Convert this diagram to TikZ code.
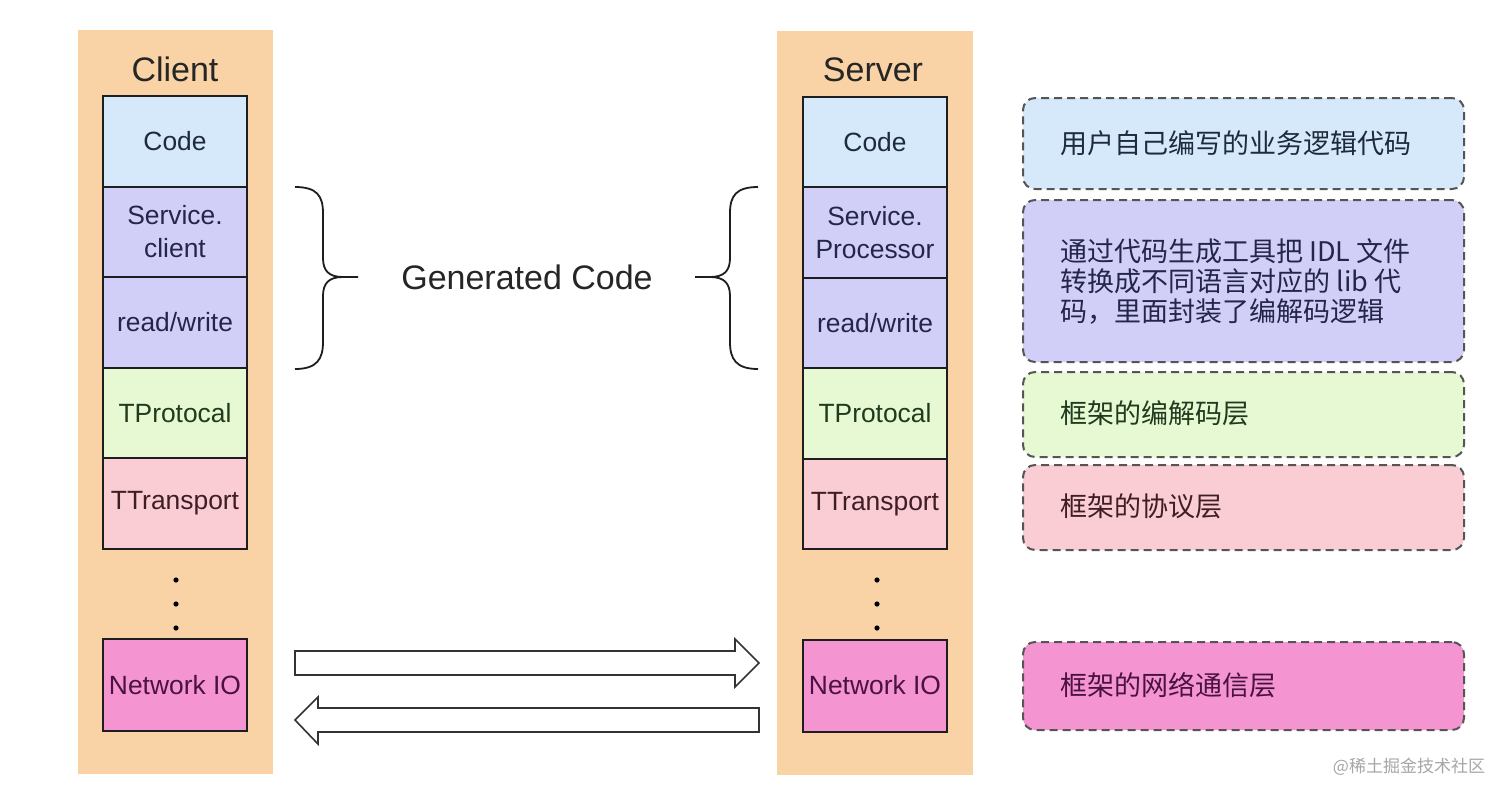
\documentclass[tikz,border=0pt]{standalone}
\usepackage{fontspec}
\setmainfont{Liberation Sans}
\newfontfamily\cjk{Noto Sans CJK SC}
\definecolor{panelc}{HTML}{F9D3A5}
\definecolor{codec}{HTML}{D5E9FA}
\definecolor{svcc}{HTML}{D1CFF8}
\definecolor{protc}{HTML}{E6F9D2}
\definecolor{tranc}{HTML}{F9CDD3}
\definecolor{netc}{HTML}{F494D1}
\definecolor{codet}{HTML}{1F2B3C}
\definecolor{svct}{HTML}{25254A}
\definecolor{prott}{HTML}{1F3A1F}
\definecolor{trant}{HTML}{3E1E24}
\definecolor{nett}{HTML}{4A1242}
\definecolor{linec}{HTML}{1E1E1E}
\definecolor{dashc}{HTML}{555555}
\begin{document}
\begin{tikzpicture}[x=0.5pt,y=-0.5pt,
  panel/.style={fill=panelc, draw=none, inner sep=0pt},
  title/.style={font=\fontsize{17}{20}\selectfont, text=black!85, anchor=base, inner sep=0pt},
  layer/.style={draw=linec, line width=1pt, minimum width=72pt, inner sep=0pt,
    font=\fontsize{13.2}{16.5}\selectfont, align=center},
  dotmark/.style={circle, fill=black, inner sep=0pt, minimum size=2.6pt},
  note/.style={draw=dashc, line width=1pt, dash pattern=on 4pt off 2.5pt,
    rounded corners=6pt, minimum width=220.5pt, inner sep=0pt},
  notetext/.style={anchor=west, inner sep=0pt, align=left,
    font=\cjk\fontsize{13.5}{15}\selectfont},
  brace/.style={draw=linec, line width=0.9pt},
  blockarrow/.style={draw=black!80, line width=0.8pt, fill=white, line join=miter}
]
\path[use as bounding box, fill=white] (0,0) rectangle (1512,799);

% panels
\node[panel, minimum width=97.5pt, minimum height=372pt] (cpanel) at (175.5,402) {};
\node[panel, minimum width=98pt, minimum height=372pt] (spanel) at (875,403) {};
\node[title] (ctitle) at (175,81) {Client};
\node[title] (stitle) at (873,81) {Server};

% client layers
\node[layer, fill=codec, text=codet, minimum height=45.25pt] (ccode) at (175,141.25) {Code};
\node[layer, fill=svcc, text=svct, minimum height=45.25pt] (csvc) at (175,231.75) {Service.\\client};
\node[layer, fill=svcc, text=svct, minimum height=45.25pt] (crw) at (175,322.25) {read/write};
\node[layer, fill=protc, text=prott, minimum height=45.25pt] (cprot) at (175,412.75) {TProtocal};
\node[layer, fill=tranc, text=trant, minimum height=45.25pt] (ctran) at (175,503.25) {TTransport};
\node[dotmark] (cd1) at (176,580) {};
\node[dotmark] (cd2) at (176,604) {};
\node[dotmark] (cd3) at (176,628) {};
\node[layer, fill=netc, text=nett, minimum height=46pt] (cnet) at (175,685) {Network IO};

% server layers
\node[layer, fill=codec, text=codet, minimum height=45.25pt] (scode) at (875,142) {Code};
\node[layer, fill=svcc, text=svct, minimum height=45.25pt] (ssvc) at (875,232.5) {Service.\\Processor};
\node[layer, fill=svcc, text=svct, minimum height=45.25pt] (srw) at (875,323) {read/write};
\node[layer, fill=protc, text=prott, minimum height=45.25pt] (sprot) at (875,413.5) {TProtocal};
\node[layer, fill=tranc, text=trant, minimum height=45.25pt] (stran) at (875,504) {TTransport};
\node[dotmark] (sd1) at (877,580) {};
\node[dotmark] (sd2) at (877,604) {};
\node[dotmark] (sd3) at (877,628) {};
\node[layer, fill=netc, text=nett, minimum height=46pt] (snet) at (875,685.5) {Network IO};

% braces
\path[brace] (295,187) .. controls (317,187) and (323,196) .. (323,213) -- (323,258)
  .. controls (323,271) and (329,277) .. (343,277) -- (358,277)
  (343,277) .. controls (329,277) and (323,283) .. (323,296) -- (323,342)
  .. controls (323,359) and (317,369) .. (295,369);
\path[brace] (758,187) .. controls (736,187) and (730,196) .. (730,213) -- (730,258)
  .. controls (730,271) and (724,277) .. (710,277) -- (695,277)
  (710,277) .. controls (724,277) and (730,283) .. (730,296) -- (730,342)
  .. controls (730,359) and (736,369) .. (758,369);
\node[font=\fontsize{17}{20}\selectfont, text=black!85] (gen) at (527,277) {Generated Code};

% block arrows
\path[blockarrow] (295,651) -- (735,651) -- (735,639) -- (759,663) -- (735,687) -- (735,675) -- (295,675) -- cycle;
\path[blockarrow] (759,708) -- (318,708) -- (318,697) -- (295,720) -- (318,744) -- (318,732) -- (759,732) -- cycle;

% notes
\node[note, fill=codec, minimum height=45.5pt] (n1) at (1243.5,143.5) {};
\node[notetext, text=codet] (t1) at (1060,143.5) {用户自己编写的业务逻辑代码};
\node[note, fill=svcc, minimum height=81pt] (n2) at (1243.5,281) {};
\node[notetext, text=svct] (t2) at (1060,282) {通过代码生成工具把 IDL 文件\\转换成不同语言对应的 lib 代\\码，里面封装了编解码逻辑};
\node[note, fill=protc, minimum height=42.5pt] (n3) at (1243.5,414.5) {};
\node[notetext, text=prott] (t3) at (1060,413) {框架的编解码层};
\node[note, fill=tranc, minimum height=42.5pt] (n4) at (1243.5,507.5) {};
\node[notetext, text=trant] (t4) at (1060,506) {框架的协议层};
\node[note, fill=netc, minimum height=44pt] (n5) at (1243.5,686) {};
\node[notetext, text=nett] (t5) at (1060,685) {框架的网络通信层};

% watermark
\node[font=\cjk\fontsize{8.5}{10}\selectfont, text=black!35, inner sep=0pt] (wm) at (1409,767) {@稀土掘金技术社区};
\end{tikzpicture}
\end{document}
